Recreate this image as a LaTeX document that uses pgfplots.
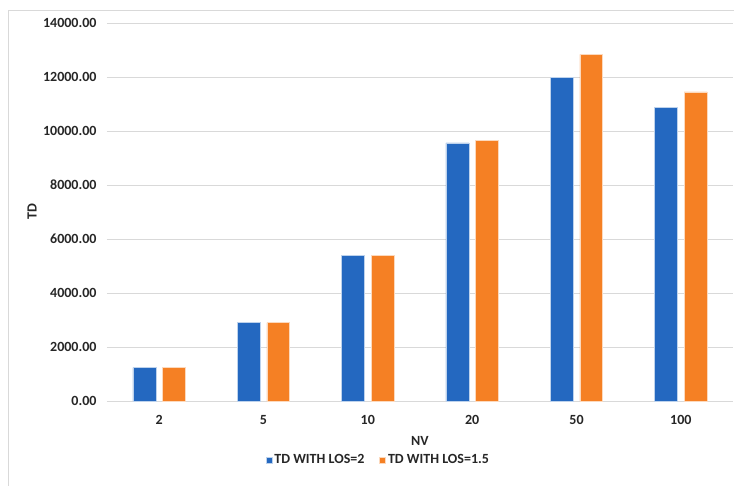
\documentclass[border=0pt]{standalone}
\usepackage{pgfplots}
\pgfplotsset{compat=1.18}
\usepackage{fontspec}
\setmainfont{Carlito}
\definecolor{cblue}{HTML}{2468C0}
\definecolor{corange}{HTML}{F58024}
\definecolor{txt}{HTML}{262626}
\definecolor{gridc}{HTML}{D9D9D9}
\begin{document}
\begin{tikzpicture}
\begin{axis}[
  at={(0pt,0pt)}, anchor=south west,
  scale only axis, width=626pt, height=378pt,
  ymin=0, ymax=14000, ytick={0,2000,...,14000},
  scaled y ticks=false,
  xmin=-0.5, xmax=5.5, xtick={0,...,5}, xticklabels={2,5,10,20,50,100},
  ybar, bar width=0.22,
  axis lines*=left, axis line style={draw=none},
  major tick length=0pt,
  ymajorgrids, xmajorgrids=false, grid style={draw=gridc, line width=0.8pt},
  font=\fontsize{14pt}{16pt}\selectfont\bfseries,
  every tick label/.append style={text=txt, font=\fontsize{14pt}{16pt}\selectfont\bfseries},
  /pgf/number format/.cd, fixed, fixed zerofill, precision=2, 1000 sep={}, assume math mode=true,
  /pgfplots/.cd,
  yticklabel style={xshift=-7pt},
  xticklabel style={yshift=-11pt},
  xlabel={NV}, ylabel={TD},
  xlabel style={at={(axis description cs:0.5,0)}, anchor=center, yshift=-40pt, text=txt},
  ylabel style={at={(axis description cs:0,0.5)}, anchor=center, yshift=75pt, text=txt},
  legend columns=2,
  legend style={at={(axis description cs:0.4335,0)}, anchor=center, yshift=-59pt, draw=none, text=txt,
    font=\fontsize{14pt}{16pt}\selectfont\bfseries,
    /tikz/every odd column/.append style={column sep=0pt},
    /tikz/every even column/.append style={column sep=13pt}},
  legend image code/.code={\fill[#1] (0pt,-3pt) rectangle (6pt,3pt);},
]
\addplot[fill=cblue, draw=white!70!cblue, line width=0.6pt, bar shift=-0.142] coordinates {(0,1233) (1,2900) (2,5380) (3,9560) (4,11980) (5,10860)};
\addplot[fill=corange, draw=white!70!corange, line width=0.6pt, bar shift=0.142] coordinates {(0,1233) (1,2900) (2,5400) (3,9660) (4,12840) (5,11450)};
\legend{TD WITH LOS=2, TD WITH LOS=1.5}
\end{axis}
\draw[black!15, line width=0.8pt] (-99pt,-90pt) -- (-99pt,391pt) -- (700pt,391pt);
\pgfresetboundingbox
\useasboundingbox (-107pt,-84pt) rectangle (627pt,401pt);
\end{tikzpicture}
\end{document}
